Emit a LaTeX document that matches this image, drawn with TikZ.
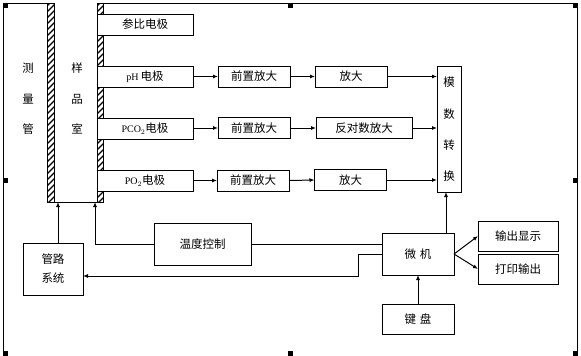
\documentclass[tikz,border=0pt]{standalone}
\usepackage{fontspec}
\newfontfamily\cjk{Noto Sans CJK SC}
\newfontfamily\latinser{Liberation Serif}
\usetikzlibrary{arrows.meta,calc}
\begin{document}
\begin{tikzpicture}[x=1pt,y=-1pt,
  line width=1pt,
  box/.style={draw,line width=1pt,fill=white,inner sep=0pt,outer sep=0pt,font=\cjk\fontsize{11.5}{13}\selectfont,align=center},
  arr/.style={-{Latex[length=5pt,width=4pt]}},
  lbl/.style={font=\cjk\fontsize{11.5}{13}\selectfont,inner sep=0pt},
  handle/.style={fill=black}]
\useasboundingbox (0,0) rectangle (581,356);
\newcommand\hatchwall[4]{%
  \begin{scope}
    \clip (#1,#2) rectangle (#3,#4);
    \foreach \k in {-12,-6,...,216} \draw[line width=1.1pt] (#1,\k) -- ++(12,-12);
  \end{scope}
  \draw (#1,#2) rectangle (#3,#4);}
% outer frame
\draw (47,3) -- (3,3) -- (3,354);
\draw (97,3) -- (577,3) -- (577,355);
% walls
\hatchwall{47}{3}{54}{202}
\hatchwall{97}{3}{103}{14}
\hatchwall{97}{35}{103}{66}
\hatchwall{97}{87}{103}{118}
\hatchwall{97}{139}{103}{170}
\hatchwall{97}{191}{103}{202}
\draw (54,202) -- (97,202);
% vertical labels
\node[lbl] (m1) at (28,68) {测};
\node[lbl] (m2) at (28,99) {量};
\node[lbl] (m3) at (28,129) {管};
\node[lbl] (s1) at (77,68) {样};
\node[lbl] (s2) at (77,99) {品};
\node[lbl] (s3) at (77,129) {室};
% electrodes
\node[box,minimum width=96pt,minimum height=21pt] (ref) at (145,24.5) {参比电极};
\node[box,minimum width=96pt,minimum height=21pt] (ph) at (145,76.5) {{\latinser\fontsize{10}{12}\selectfont pH}\,电极};
\node[box,minimum width=96pt,minimum height=21pt] (pco) at (145,128.5) {{\latinser\fontsize{10}{12}\selectfont PCO$_2$}电极};
\node[box,minimum width=96pt,minimum height=21pt] (po) at (145,180.5) {{\latinser\fontsize{10}{12}\selectfont PO$_2$}电极};
% preamps
\node[box,minimum width=72pt,minimum height=21pt] (pre1) at (254,76.5) {前置放大};
\node[box,minimum width=72pt,minimum height=21pt] (pre2) at (254,128) {前置放大};
\node[box,minimum width=72pt,minimum height=21pt] (pre3) at (253,180.5) {前置放大};
% amps
\node[box,minimum width=72pt,minimum height=21pt] (amp1) at (351,76.5) {放大};
\node[box,minimum width=96pt,minimum height=21pt] (amp2) at (364,128) {反对数放大};
\node[box,minimum width=72pt,minimum height=21pt] (amp3) at (350.5,180) {放大};
% ADC
\node[box,minimum width=24pt,minimum height=126pt] (adc) at (449,129) {};
\node[lbl] (a1) at (449,82) {模};
\node[lbl] (a2) at (449,114) {数};
\node[lbl] (a3) at (449,145) {转};
\node[lbl] (a4) at (449,176) {换};
% lower blocks
\node[box,minimum width=72pt,minimum height=42pt] (mc) at (418,254) {微\,\,机};
\node[box,minimum width=80pt,minimum height=30pt] (out1) at (518,236) {输出显示};
\node[box,minimum width=80pt,minimum height=30pt] (out2) at (518,269) {打印输出};
\node[box,minimum width=72pt,minimum height=30pt] (kb) at (418,319) {键\,\,盘};
\node[box,minimum width=97pt,minimum height=42pt] (tc) at (202.5,244) {温度控制};
\node[box,minimum width=60pt,minimum height=52pt] (pipe) at (53,269) {管路\\[6pt]系统};
% coordinates
\coordinate (adx) at (446,0);
\coordinate (chb) at (0,202);
\coordinate (tcx) at (95,0);
\coordinate (pix) at (58,0);
\coordinate (y276) at (0,276);
\coordinate (bend) at (358,0);
% row connectors
\draw[arr] (ph.east) -- (pre1.west);
\draw[arr] (pco.east |- pre2.west) -- (pre2.west);
\draw[arr] (po.east) -- (pre3.west);
\draw[arr] (pre1.east) -- (amp1.west);
\draw[arr] (pre2.east) -- (amp2.west);
\draw[arr] (pre3.east) -- (amp3.west);
\draw[arr] (amp1.east) -- (amp1.east -| adc.west);
\draw[arr] (amp2.east) -- (amp2.east -| adc.west);
\draw[arr] (amp3.east) -- (amp3.east -| adc.west);
% lower connectors
\draw[arr] (mc.north -| adx) -- (adc.south -| adx);
\draw[arr] (kb.north) -- (mc.south);
\draw[arr] (mc.east) -- (out1.west);
\draw[arr] (mc.east) -- (out2.west);
\draw (tc.east) -- (tc.east -| mc.west);
\draw[arr] (tc.west) -| (tcx |- chb);
\draw[arr] (pipe.north -| pix) -- (pix |- chb);
\draw[arr] (mc.west) -- (mc.west -| bend) -- (bend |- y276) -- (pipe.east |- y276);
% selection handles
\foreach \hx/\hy [count=\i] in {5/5.5,290/5.5,575.5/5.5,5/180,575.5/180,5/353.5,290/353.5,575.5/353.5}
  \fill[handle] (\hx-2.5,\hy-2.5) rectangle (\hx+2.5,\hy+2.5);
\end{tikzpicture}
\end{document}
